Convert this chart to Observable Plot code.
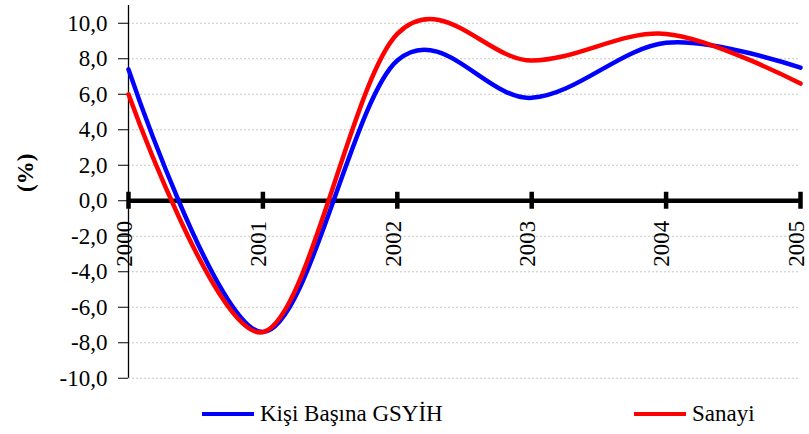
<!DOCTYPE html>
<html>
<head>
<meta charset="utf-8">
<script src="https://cdn.jsdelivr.net/npm/d3@7"></script>
<script src="https://cdn.jsdelivr.net/npm/@observablehq/plot@0.6"></script>
<style>
  body { margin: 0; background: #fff; }
  #wrap { position: relative; width: 809px; height: 434px; font-family: 'Liberation Serif', 'Times New Roman', serif; }
  .leg { position: absolute; display: flex; align-items: center; font-size: 23px; color: #000; white-space: nowrap; }
  .sw { display: inline-block; width: 52px; height: 4px; margin-right: 6px; }
</style>
</head>
<body>
<div id="wrap"></div>
<script>
const years = [2000, 2001, 2002, 2003, 2004, 2005];
const gsyih = [7.4, -7.4, 7.9, 5.8, 8.9, 7.5];
const sanayi = [6.0, -7.4, 9.4, 7.9, 9.4, 6.6];
const yTicks = [-10, -8, -6, -4, -2, 0, 2, 4, 6, 8, 10];
const seriesNames = ["Kişi Başına GSYİH", "Sanayi"];
const colors = ["#0000ff", "#ff0000"];

const blueData = years.map((y, i) => ({year: y, v: gsyih[i]}));
const redData = years.map((y, i) => ({year: y, v: sanayi[i]}));
const fmt = d => d.toFixed(1).replace(".", ",");

const chart = Plot.plot({
  width: 809,
  height: 392,
  marginLeft: 128,
  marginRight: 9,
  marginTop: 5,
  marginBottom: 14.25,
  style: {fontFamily: "'Liberation Serif', 'Times New Roman', serif", fontSize: "23px", color: "#000", background: "#fff"},
  x: {domain: [2000, 2005], axis: null},
  y: {domain: [-10, 11], axis: null},
  marks: [
    Plot.gridY(yTicks, {stroke: "#c8c8c8", strokeOpacity: 1, strokeDasharray: "2,2"}),
    Plot.axisY(yTicks, {tickSize: 10, tickPadding: 11, tickFormat: fmt, fontSize: 23, label: null}),
    Plot.ruleX([2000], {stroke: "#000", strokeWidth: 1.3}),
    Plot.ruleY([0], {stroke: "#000", strokeWidth: 4.5}),
    Plot.ruleX(years, {x: d => d, y1: d => 0, y2: d => 0, insetTop: -8.5, insetBottom: -8.5, stroke: "#000", strokeWidth: 4.5}),
    Plot.text(years, {x: d => d, y: d => 0, text: d => String(d), rotate: -90, textAnchor: "end", lineAnchor: "middle", dy: 20, dx: -4, fontSize: 23, fill: "#000"}),
    Plot.text(["(%)"], {frameAnchor: "left", dx: -103, rotate: -90, fontWeight: "bold", fontSize: 23, fill: "#000"}),
    Plot.line(blueData, {x: "year", y: "v", stroke: colors[0], strokeWidth: 4.5, curve: "cardinal"}),
    Plot.line(redData, {x: "year", y: "v", stroke: colors[1], strokeWidth: 4.5, curve: "cardinal"})
  ]
});

const wrap = document.getElementById("wrap");
wrap.appendChild(chart);

const legendPos = [{left: 202, top: 414}, {left: 634, top: 414}];
seriesNames.forEach((name, i) => {
  const item = document.createElement("div");
  item.className = "leg";
  item.style.left = legendPos[i].left + "px";
  item.style.top = (legendPos[i].top - 15) + "px";
  item.style.height = "30px";
  const sw = document.createElement("span");
  sw.className = "sw";
  sw.style.background = colors[i];
  const tx = document.createElement("span");
  tx.textContent = name;
  item.appendChild(sw);
  item.appendChild(tx);
  wrap.appendChild(item);
});
</script>
</body>
</html>
